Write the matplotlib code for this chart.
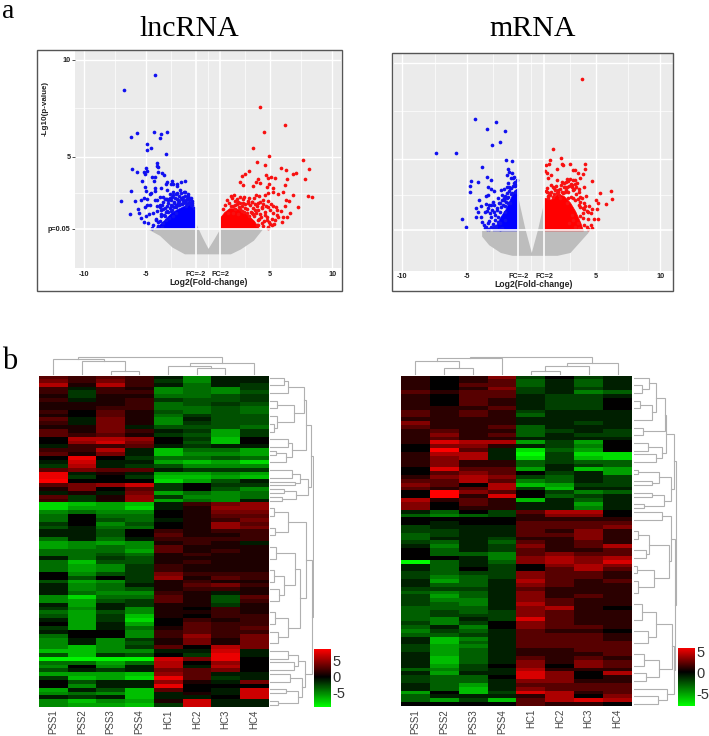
import numpy as np
import matplotlib
matplotlib.use("Agg")
import matplotlib.pyplot as plt
from matplotlib.colors import LinearSegmentedColormap, TwoSlopeNorm
from matplotlib.patches import Rectangle

W, H = 709, 736
plt.rcParams['font.family'] = ['Liberation Sans', 'DejaVu Sans']

# ---------- volcano data ----------
lnc_blue_x = [-6.19,-5.71,-4.31,-3.81,-3.89,-3.27,-4.88,-4.56,-4.93,-3.35,-6.08,-5.68,-4.98,-5.15,-5.09,-4.88,-4.07,-4.13,-3.99,-4.02,-3.67,-3.56,-4.53,-4.23,-4.31,-5.33,-5.04,-4.96,-6.22,-3.38,-3.27,-2.92,-3.0,-2.84,-2.49,-2.52,-2.2,-1.85,-3.78,-4.23,-3.27,-3.05,-4.61,-4.69,-4.26,-6.97,-5.9,-5.41,-5.17,-4.9,-5.07,-5.6,-5.57,-6.3,-4.88,-4.66,-4.26,-4.13,-3.86,-3.59,-4.13,-3.86,-3.27,-2.92,-2.52,-2.2,-1.85,-1.58,-5.36,-5.01,-5.15,-4.74,-4.8,-4.53,-4.39,-4.18,-3.6,-3.3,-3.0,-2.7,-2.4,-2.1,-1.7,-1.5,-1.3,-3.8,-3.5,-3.2,-2.9,-2.6,-2.3,-2.0,-1.8,-3.9,-3.65,-3.4,-3.15,-2.85,-2.55,-4.0,-3.7,-6.75,-4.28,
-4.4,-4.2,-4.1,-4.0,-3.9,-3.8,-3.75,-3.6,-3.55,-3.45,-3.4,-3.3,-3.25,-3.1,-3.05,-2.95,-2.9,-2.8,-2.75,-2.65,-2.6,-2.5,-2.45,-2.35,-2.3,-2.2,-2.15,-2.05,-2.0,-1.9,-1.85,-1.75,-1.7,-1.6,-1.55,-1.45,-1.4,-1.3,-1.25,-1.15,-3.5,-3.2,-2.85,-2.55,-2.25,-1.95,-1.65,-1.35,-3.7,-3.35,-3.0,-2.7,-2.4,-2.1,-1.8,-1.5]
lnc_blue_y = [6.0,6.23,6.26,6.16,5.99,6.3,5.66,5.46,5.34,5.13,4.36,4.24,4.41,4.22,4.13,4.25,4.67,4.55,4.46,4.24,4.19,4.06,3.96,3.98,3.74,3.76,3.43,3.24,3.26,3.58,3.72,3.74,3.58,3.58,3.58,3.5,3.7,3.74,3.39,3.39,3.29,3.09,3.15,3.07,3.22,2.72,2.72,2.76,2.9,2.81,2.43,2.31,2.11,2.05,2.52,2.52,2.78,2.78,2.91,2.95,2.47,2.52,2.81,2.91,3.15,3.12,3.21,2.98,1.85,1.97,1.62,2.05,1.57,1.32,2.09,1.75,2.3,2.45,2.5,2.65,2.75,2.85,2.8,2.6,2.5,2.05,1.95,2.15,2.25,2.4,2.5,2.6,2.45,1.7,1.6,1.75,1.85,1.95,2.1,1.45,1.4,8.45,9.2,
1.5,1.8,2.2,1.65,2.4,2.25,1.95,2.65,2.0,2.35,2.8,2.2,2.6,2.9,2.35,2.75,2.45,3.05,2.6,2.9,2.5,2.85,2.6,3.0,2.7,2.55,2.9,2.75,2.95,2.7,3.0,2.75,2.55,2.95,2.65,2.8,2.5,2.7,2.6,2.35,2.85,2.75,3.2,3.1,3.3,3.2,3.1,2.9,2.5,2.15,2.2,2.4,2.5,2.55,2.6,2.85]
lnc_red_x = [6.17,4.53,3.62,4.91,3.94,4.56,7.67,8.15,5.84,6.27,7.05,6.84,3.32,2.95,2.71,2.6,2.84,4.02,3.83,4.18,3.62,4.64,5.07,5.39,4.85,4.93,4.72,5.25,6.33,6.17,7.77,8.02,8.39,6.84,6.0,5.25,5.66,4.85,4.58,3.83,1.85,2.12,2.57,2.9,3.27,4.13,3.73,6.25,6.49,7.24,6.62,6.19,5.84,6.33,6.06,5.66,5.93,5.12,4.99,4.8,5.12,5.52,5.25,4.85,4.45,4.32,4.0,3.57,3.24,2.84,2.44,2.17,1.85,2.98,3.78,4.18,4.58,3.51,2.57,4.72,4.05,4.32,3.91,4.18,
1.2,1.4,1.55,1.7,1.9,2.0,2.15,2.3,2.35,2.5,2.6,2.75,2.85,3.0,3.1,3.2,3.35,3.45,3.55,3.65,3.75,3.85,3.95,4.05,4.15,4.25,4.35,4.45,4.55,4.65,4.75,4.85,4.95,5.05,5.2,5.35,5.45,5.55,1.6,2.0,2.45,2.9,3.3,3.7,4.1,4.5,4.9,5.3,2.2,2.7,3.15,3.6,4.0,4.4,4.8]
lnc_red_y = [6.64,6.28,5.44,5.04,4.73,4.58,4.83,4.39,4.42,4.34,4.17,4.1,4.25,4.11,4.01,3.72,3.53,3.86,3.7,3.65,3.48,4.06,3.96,3.91,3.89,3.6,3.46,3.39,3.84,3.56,3.86,2.96,2.93,3.05,3.17,3.2,3.08,3.15,3.03,3.03,2.98,3.01,2.95,2.95,2.86,2.98,2.86,2.77,2.72,2.4,2.09,2.46,2.22,1.92,1.88,1.92,1.66,1.81,1.52,1.31,1.5,2.26,2.46,2.4,2.77,2.4,2.6,2.69,2.6,2.64,2.69,2.52,2.46,2.34,2.26,2.05,2.0,2.09,2.29,1.74,1.74,1.57,1.5,7.55,
2.3,2.5,2.75,2.6,2.9,2.45,2.7,2.55,2.85,2.4,2.6,2.45,2.8,2.55,2.3,2.7,2.5,2.15,2.65,2.35,2.55,2.1,2.45,2.25,2.65,1.9,2.35,2.55,2.15,2.45,1.9,2.7,2.25,2.55,2.1,1.75,2.4,2.0,2.1,2.1,2.05,2.15,1.95,1.95,1.8,1.7,1.65,1.55,2.3,2.2,2.1,2.05,1.5,1.45,1.4]
mrna_blue_x = [-4.36,-2.71,-3.43,-2.06,-2.45,-3.02,-7.38,-5.81,-1.96,-1.52,-3.8,-1.83,-1.73,-1.47,-1.91,-3.46,-1.57,-3.1,-1.32,-1.26,-1.78,-4.13,-4.7,-4.75,-4.73,-3.33,-3.12,-2.87,-2.37,-2.14,-1.91,-1.65,-3.33,-3.51,-4.03,-3.54,-4.29,-3.93,-4.1,-4.29,-3.85,-5.35,-5.04,-3.38,-3.2,-2.94,-3.12,-2.55,-2.25,-1.91,-1.47,-1.26,-2.68,-2.43,-2.09,-1.78,-2.87,-2.55,-2.81,-3.33,-3.12,-3.46,-2.87,-2.43,-2.3,-2.03,-2.03,-1.65,
-3.9,-3.7,-3.6,-3.5,-3.4,-3.3,-3.25,-3.15,-3.05,-3.0,-2.9,-2.8,-2.75,-2.65,-2.6,-2.5,-2.45,-2.35,-2.3,-2.2,-2.15,-2.05,-2.0,-1.95,-1.85,-1.8,-1.7,-1.6,-1.55,-1.45,-1.35,-1.25,-1.15,-3.6,-3.3,-3.0,-2.7,-2.4,-2.1,-1.75,-1.4,-1.1]
mrna_blue_y = [7.12,6.96,6.58,6.46,5.9,5.73,5.31,5.33,4.96,4.89,4.58,4.5,4.34,4.27,4.18,4.08,4.04,3.92,4.06,3.8,3.75,3.8,3.85,3.63,3.28,3.57,3.44,3.33,3.4,3.45,3.57,3.49,3.14,3.11,2.9,2.65,2.45,2.59,2.27,2.0,1.75,1.87,1.46,2.45,2.19,2.79,2.62,2.97,3.14,3.26,3.23,3.31,2.45,2.71,2.88,3.02,2.27,2.01,1.84,1.66,1.46,1.35,1.46,1.66,1.4,1.84,2.27,2.71,
2.0,1.6,2.25,1.5,2.3,1.8,2.6,2.0,2.35,1.65,2.6,2.1,1.55,2.35,1.75,2.7,2.25,2.5,2.9,2.6,2.9,2.55,3.1,2.8,3.0,2.7,3.35,3.2,3.5,3.6,3.75,3.6,3.65,1.4,1.35,1.4,1.4,1.35,3.0,3.55,4.0,3.9]
mrna_red_x = [3.96,1.66,2.33,1.45,1.11,1.37,2.35,2.48,3.03,4.16,2.02,3.26,3.36,4.19,1.09,1.22,1.53,3.65,3.98,1.32,2.02,2.41,2.74,3.36,3.77,4.68,1.5,1.79,2.61,3.13,3.52,4.09,3.67,1.19,1.97,2.87,3.26,5.33,6.18,6.23,5.04,5.17,5.79,4.71,5.12,4.37,4.63,4.86,5.17,4.03,3.77,3.77,3.26,2.87,4.16,3.77,3.98,3.65,4.11,4.42,4.68,3.72,3.26,3.39,2.95,3.13,2.48,2.22,1.45,2.74,1.32,
1.15,1.25,1.4,1.55,1.65,1.75,1.85,1.95,2.05,2.15,2.25,2.3,2.4,2.5,2.55,2.65,2.7,2.8,2.85,2.95,3.0,3.05,3.15,3.2,3.3,3.35,3.45,3.5,3.6,3.7,3.8,3.9,4.0,4.1,4.2,4.3,4.4,4.5,4.6,1.3,1.7,2.1,2.6,3.1,3.4,3.7,4.05,4.35]
mrna_red_y = [9.17,5.54,5.07,4.96,4.69,4.74,4.74,4.7,4.76,4.76,4.5,4.42,4.42,4.48,4.41,4.27,4.18,4.27,4.23,4.03,3.92,3.8,3.96,3.92,4.01,3.85,3.66,3.49,3.57,3.66,3.75,3.54,3.45,3.31,3.23,3.31,3.4,3.23,3.37,2.91,2.88,2.71,2.65,2.39,2.39,2.26,2.22,1.87,1.87,2.45,2.79,3.05,2.97,2.97,2.57,2.05,1.93,1.66,1.58,1.37,1.42,1.41,1.84,1.46,1.66,2.1,3.23,2.97,3.14,2.71,2.97,
3.35,3.5,3.25,3.3,3.55,3.2,3.4,3.6,3.3,3.15,3.45,3.65,3.3,3.55,3.75,3.4,3.8,3.55,3.85,3.6,3.95,3.7,3.55,3.9,3.45,3.7,3.2,3.55,2.95,3.3,2.5,3.0,2.2,2.7,3.1,2.3,1.9,2.55,1.6,3.1,3.05,3.4,3.3,3.05,2.9,2.6,2.4,1.5]

# solid cores of the significant clouds (x, upper y)
lnc_core_blue_x = [-4.3,-4,-3.5,-3,-2.5,-2,-1.5,-1.05]
lnc_core_blue_y = [1.3,1.45,1.75,2.1,2.3,2.45,2.55,2.3]
lnc_core_red_x = [1.0,1.3,1.7,2.2,2.7,3.2,3.7,4.1]
lnc_core_red_y = [1.9,2.15,2.35,2.35,2.25,2.0,1.7,1.3]
mrna_core_blue_x = [-3.0,-2.7,-2.4,-2.0,-1.6,-1.3,-1.05]
mrna_core_blue_y = [1.3,1.6,2.0,2.4,3.0,3.4,3.5]
mrna_core_red_x = [1.0,1.5,2.0,2.5,3.0,3.4,3.8,4.0]
mrna_core_red_y = [3.0,2.9,3.2,3.1,2.75,2.3,1.7,1.3]

# grey non-significant cloud: x, lower y, upper y
lnc_grey_x = [-4.9,-3.9,-2.9,-1.9,-1.0,-0.5,0.0,0.5,1.0,1.8,2.6,3.65,4.4]
lnc_grey_lo = [1.3,0.95,0.35,0.0,0.0,0.0,0.0,0.0,0.0,0.0,0.25,0.7,1.3]
lnc_grey_hi = [1.3,1.3,1.3,1.3,1.6,0.9,0.28,0.8,1.35,1.3,1.3,1.3,1.3]
mrna_grey_x = [-3.85,-3.3,-2.4,-1.5,-1.0,-0.5,0.0,0.5,1.0,2.0,3.0,3.8,4.4]
mrna_grey_lo = [1.0,0.55,0.15,0.0,0.0,0.0,0.0,0.0,0.0,0.0,0.15,0.75,1.2]
mrna_grey_hi = [1.3,1.3,1.3,1.3,2.9,1.4,0.15,1.4,2.9,1.3,1.3,1.3,1.3]

x_breaks = [-10,-5,-1,1,5,10]
x_break_labels = ['-10','-5','FC=-2','FC=2','5','10']
x_minor = [-7.5,-3,0,3,7.5]
y_breaks = [1.3,5,10]
y_break_labels = ['p=0.05','5','10']
y_minor = [3.15,7.5]

# ---------- heatmap data ----------
samples = ['PSS1','PSS2','PSS3','PSS4','HC1','HC2','HC3','HC4']
lnc_heat = [
[3,2,3,2,-1,-5,-1,-1],[4,2,4,2,-2,-5,-1,-1],[6,1,6,2,-1,-4,-1,-2],[2,-1,2,1,-5,-4,-5,-2],
[2,-2,2,2,-5,-4,-5,-3],[1,-2,1,1,-4,-4,-3,-2],[2,-1,1,2,-2,-3,-3,-2],[1,1,1,2,-4,-3,-2,-3],
[1,1,2,2,-4,-4,-3,-4],[2,0,3,1,-3,-4,-3,-4],[1,0,3,1,-4,-2,-3,-3],[3,-1,4,1,-5,-1,-3,-3],
[2,-1,4,1,-5,-2,-3,-3],[1,1,4,-1,-3,-3,-3,-4],[3,1,4,2,-1,-2,-6,-2],[3,2,3,1,-2,-3,-6,-2],
[0,6,6,5,0,-2,-7,0],[0,5,7,4,0,-3,-7,0],[-1,2,2,3,-1,-2,-1,-1],[2,2,6,-1,-7,-4,-4,-6],
[3,1,4,-1,-7,-5,-5,-6],[0,8,0,-2,-4,-4,-3,-4],[-1,7,-1,-1,-6,-7,-6,-8],[-2,6,-1,-2,-3,-5,-5,-5],
[3,4,3,3,-1,-2,-2,-2],[8,-1,1,-1,-6,-6,-5,-6],[8,-2,0,-2,-7,-7,-6,-7],[9,0,0,0,-8,-6,-3,-1],
[3,4,5,7,-2,0,-2,-2],[1,4,0,3,-2,0,-3,-5],[-1,1,-1,4,-6,-4,-5,-4],[3,-2,1,5,-2,-5,-5,-4],
[2,-2,1,5,-6,-4,-5,-1],[-8,-7,-6,-7,-1,2,4,5],[-8,-6,-6,-8,-1,1,5,5],[-5,-4,-5,-5,0,1,4,4],
[-4,0,-4,-4,0,1,3,3],[-4,0,-3,-4,-1,1,2,4],[-2,0,-5,-3,0,1,5,3],[-3,-1,-4,-4,0,1,5,4],
[-1,-1,-3,0,2,1,2,2],[-1,-1,-3,0,3,1,1,2],[-4,-1,-4,-1,2,2,2,2],[-6,-5,-6,-5,1,2,1,-1],
[-6,-5,-4,-5,3,1,1,1],[-4,-4,-4,-6,3,1,2,1],[-4,-4,-3,-4,1,2,1,1],[-1,-4,-2,-3,1,1,1,1],
[-4,-7,-3,-3,1,2,1,1],[-4,-6,-5,-2,2,1,1,1],[-4,-6,-5,-2,2,1,1,1],[0,-5,-3,-2,4,2,2,2],
[0,-3,0,-2,5,1,3,2],[-3,-6,-5,-2,1,2,1,1],[-1,-5,-4,-1,1,3,4,2],[-1,-5,-4,-3,1,2,2,1],
[-1,-4,-5,-5,2,1,-1,1],[-5,-8,-4,-4,3,1,-3,3],[-5,-6,-3,-2,3,1,-3,2],[-1,-6,-1,-2,1,1,-2,1],
[-2,-5,-1,-5,1,0,2,1],[-4,-6,-3,-5,1,1,2,1],[-3,-6,-2,-7,1,0,2,2],[-1,-6,-2,-8,0,2,1,2],
[0,-6,-1,-6,0,3,2,2],[-2,-6,-1,-4,1,3,2,3],[-1,0,0,-5,2,3,2,2],[-4,0,0,-5,2,5,2,4],
[-5,-1,-5,-2,1,4,1,4],[-5,-1,-5,-3,1,4,1,4],[-5,-7,-5,-2,3,0,6,4],[-7,-7,-5,-5,-1,-1,7,-1],
[-3,-7,-2,-3,0,-2,8,-1],[-9,-9,-9,-9,7,4,8,0],[-4,-4,-6,-4,6,0,5,0],[-5,0,-5,-1,6,-1,6,0],
[-3,-1,-2,-1,4,3,4,0],[-6,-6,-6,-7,5,3,-1,-1],[-2,-7,-6,-8,8,3,-2,-1],[0,-3,-1,-1,5,1,-1,4],
[0,-5,-1,-1,8,0,0,0],[-6,-1,-3,-7,3,0,-1,7],[-5,-4,-5,-7,-1,1,-1,7],[-1,-2,-1,-7,-1,-1,0,7],
[-5,-7,-5,-6,1,7,-1,-1],[-5,-6,-6,-7,-2,7,-1,-1],
]
mrna_heat = [
[1,0,1,3,-2,0,-2,-1],[1,0,1,2,-3,-1,-3,-1],[1,0,2,2,-3,-1,-3,-1],[1,0,1,3,-2,-1,-2,-1],
[2,1,2,2,-2,-1,-4,-3],[1,0,2,2,-1,-2,-2,-1],[1,0,2,1,-1,-2,-2,0],[1,0,2,1,-1,-2,-2,0],
[1,1,1,2,-1,-2,-2,0],[2,1,2,1,-2,-1,-1,-1],[2,1,2,1,-3,-1,-1,-1],[1,1,1,1,-1,-1,-1,-1],
[3,1,1,1,-1,-1,-2,-1],[2,1,1,2,-3,-1,-1,-1],[1,2,1,1,-3,-2,-1,-2],[1,3,1,2,-3,-1,-2,-2],
[1,2,1,1,-1,-1,-1,-1],[1,5,4,4,-5,-2,-5,0],[0,3,3,1,-1,-2,-4,0],[0,6,2,-1,-7,-3,-5,0],
[1,4,4,-1,-8,-2,-7,-7],[1,3,4,-1,-7,-2,-6,-7],[1,3,1,1,-3,-2,-3,-3],[1,3,1,1,-3,-1,-2,-3],
[0,5,2,2,-5,-1,-6,-5],[0,2,3,2,0,-2,-1,-5],[1,3,4,3,-2,-3,-1,-2],[2,2,4,2,-4,-3,-1,-2],
[3,2,0,4,-6,-5,-2,-2],[2,1,2,4,-2,-6,-1,-1],[0,6,3,2,0,-2,-4,-3],[0,6,1,5,0,-3,-2,-1],
[4,1,2,1,-6,-1,-3,-1],[3,0,2,1,-1,-1,-5,-1],[3,0,1,1,-1,-1,-4,-1],[-1,-3,0,-2,2,4,4,0],
[-3,-4,-3,-2,1,3,3,0],[0,0,0,0,1,1,1,1],[0,-1,0,0,2,2,2,2],[-2,-1,-1,-1,2,2,2,3],
[-2,-2,-1,-1,2,1,3,1],[-3,-2,-1,-1,2,2,3,1],[-3,-1,-1,-2,1,1,3,1],[-2,-3,-1,-3,2,1,2,1],
[-1,-4,-1,-2,3,1,2,4],[0,-3,-1,-2,2,1,1,2],[0,-3,-3,-4,2,3,2,2],[0,0,-1,-4,3,4,3,4],
[-8,-3,-1,-3,3,4,3,5],[-1,-3,-1,-2,0,3,4,3],[-1,-3,0,-2,0,2,4,2],[-2,-3,-2,-2,3,2,2,1],
[-2,-4,-3,-2,3,2,2,1],[-1,-5,-3,-1,4,2,1,2],[-1,-3,-3,-1,3,2,1,1],[-2,-2,-2,-1,2,1,1,1],
[-3,-4,-3,-1,3,1,1,1],[-2,-5,-3,-1,3,1,2,1],[-2,-4,-4,-1,3,2,1,1],[-2,-3,-4,-1,4,2,1,1],
[-3,-3,-3,-1,3,4,1,0],[-3,-2,-3,-2,3,2,1,1],[-3,-2,-2,-2,3,2,1,1],[-3,-4,-1,-2,5,2,1,1],
[-2,-4,-2,0,3,2,1,1],[-3,-1,-4,0,3,2,2,1],[-4,-2,-3,-1,2,1,1,0],[-3,-3,-2,-1,2,2,2,1],
[-1,-6,-4,-1,2,2,2,1],[-1,-6,-3,-1,2,2,2,2],[-2,-5,-4,-1,2,2,2,2],[-2,-5,-3,-1,1,1,2,2],
[-1,-5,-3,-1,1,1,1,2],[-1,-6,-3,-1,2,1,2,1],[-1,-6,-3,-1,3,1,3,2],[-1,-5,-2,0,3,0,3,2],
[-3,-4,-2,-1,4,1,1,1],[-1,-5,-1,-1,5,3,0,4],[-2,-3,-3,0,5,3,0,1],[-2,-3,-3,-1,3,3,1,1],
[-1,-3,-5,-1,2,2,2,2],[-1,-3,-6,-1,3,2,2,2],[-5,0,-6,-2,5,4,1,2],[-3,-1,-1,-1,1,4,0,3],
[-3,-5,-2,-6,2,4,5,4],[0,0,0,0,2,1,1,0],
]

# dendrograms: (left, right, merge height); integers are leaves
lnc_col_tree = ((0,(1,(2,3,3),13),15),((4,(5,6,6),8),7,11),17)
mrna_col_tree = (((0,(1,2,6),13),3,16),(((4,5,3),6,8),7,11),17)

_u1 = (((0,2,14),4,18),((6,8,7),(10,(12,14,4),7),24),34)
_u2 = ((16,18,18),((19,20,6),22,16),22)
_u3 = ((24,26,22),(27,28,25),30)
_u4 = ((29,30,14),(31,32,12),26)
_l1 = ((34,36,4),(39,41,5),18)
_l2 = ((44,47,6),((50,53,4),(55,58,9),14),25)
_l3 = ((61,64,5),(66,69,8),18)
_l4 = (_l1,(_l2,_l3,30),36)
_l5 = ((71,73,18),(74,76,24),28)
_l6 = ((77,79,20),((81,82,16),(84,85,8),28),32)
lnc_row_tree = (((_u1,_u2,36),(_u3,_u4,38),41),(_l4,(_l5,_l6,35),42),43)

_m1 = (((0,(2,4,8),15),((6,8,6),11,18),22),(13,15,9),31)
_m2 = ((17,19,14),(20,22,22),28)
_m3 = ((24,25,4),(27,28,18),25)
_m4 = ((30,31,18),(33,34,10),30)
_n1 = (35,37,28)
_n2 = ((40,42,4),(45,47,12),15)
_n3 = ((49,51,3),(53,56,4),20)
_n4 = ((59,63,8),(66,69,14),22)
_n5 = ((72,75,10),(77,79,12),25)
_n6 = (81,(83,85,24),33)
mrna_row_tree = (((_m1,_m2,32),(_m3,_m4,37),40),((_n1,(_n2,_n3,35),37),((_n4,_n5,38),_n6,40),41),42)

# ---------- helpers ----------
fig = plt.figure(figsize=(W/100, H/100), dpi=100, facecolor='white')

def axpx(x0, y0, x1, y1):
    return fig.add_axes([x0/W, 1-y1/H, (x1-x0)/W, (y1-y0)/H])

def box(x0, y0, x1, y1):
    fig.add_artist(Rectangle((x0/W, 1-y1/H), (x1-x0)/W, (y1-y0)/H, transform=fig.transFigure,
                             fill=False, edgecolor='#555555', lw=1.0))

def volcano(rect, xlim, ylim, bx, by, rx, ry, cbx, cby, crx, cry, gx, glo, ghi, ylabels, tickpad, labelpad):
    ax = axpx(*rect)
    ax.set_facecolor('#ebebeb')
    ax.set_xlim(xlim); ax.set_ylim(ylim)
    for s in ax.spines.values():
        s.set_visible(False)
    for v in x_minor:
        ax.axvline(v, color='white', lw=0.5, zorder=1)
    for v in y_minor:
        ax.axhline(v, color='white', lw=0.5, zorder=1)
    for v in [-10,-5,5,10]:
        ax.axvline(v, color='white', lw=1.0, zorder=1)
    for v in [5,10]:
        ax.axhline(v, color='white', lw=1.0, zorder=1)
    ax.fill_between(gx, glo, ghi, color='#bdbdbd', lw=0, zorder=2)
    ax.fill_between(cbx, 1.3, cby, color='#0000ff', lw=0.5, zorder=3)
    ax.fill_between(crx, 1.3, cry, color='#ff0000', lw=0.5, zorder=3)
    ax.scatter(bx, by, s=7, c='#1010f0', lw=0, zorder=4)
    ax.scatter(rx, ry, s=7, c='#f81010', lw=0, zorder=4)
    ax.axvline(-1, color='white', lw=1.2, zorder=5)
    ax.axvline(1, color='white', lw=1.2, zorder=5)
    ax.axhline(1.3, color='white', lw=1.2, zorder=5)
    ax.set_xticks(x_breaks, x_break_labels, fontsize=5.2, fontweight='bold', color='#222222')
    ax.tick_params(axis='x', length=0, pad=tickpad)
    if ylabels:
        ax.set_yticks(y_breaks, y_break_labels, fontsize=5.2, fontweight='bold', color='#222222')
        ax.tick_params(axis='y', length=2, width=0.6, pad=1.5, color='#333333')
    else:
        ax.set_yticks([])
    ax.set_xlabel('Log2(Fold-change)', fontsize=6.2, fontweight='bold', color='#222222', labelpad=labelpad)
    return ax

def tree_lines(ax, node, horizontal=False):
    if not isinstance(node, tuple):
        return float(node), 0.0
    l, r, h = node
    pl, hl = tree_lines(ax, l, horizontal)
    pr, hr = tree_lines(ax, r, horizontal)
    xs, ys = [pl, pl, pr, pr], [hl, h, h, hr]
    if horizontal:
        ax.plot(ys, xs, color='#b0b0b0', lw=0.8, solid_joinstyle='miter')
    else:
        ax.plot(xs, ys, color='#b0b0b0', lw=0.8, solid_joinstyle='miter')
    return (pl+pr)/2, h

def heatmap(rect, data, vmin, vmax, cbar_rect, coltree, rowtree, top_h, right_w):
    cmap = LinearSegmentedColormap.from_list('gbr', ['#00ff00', '#000000', '#ff0000'])
    norm = TwoSlopeNorm(vmin=vmin, vcenter=0, vmax=vmax)
    x0, y0, x1, y1 = rect
    ax = axpx(*rect)
    ax.imshow(np.array(data, float), cmap=cmap, norm=norm, aspect='auto', interpolation='nearest')
    ax.set_xticks(range(8), samples, rotation=90, fontsize=7.0, color='#444444')
    ax.set_yticks([])
    ax.tick_params(axis='x', length=0, pad=2)
    for s in ax.spines.values():
        s.set_visible(False)
    # column dendrogram
    at = axpx(x0, y0-top_h, x1, y0)
    at.set_xlim(-0.5, 7.5); at.set_ylim(-1.5, top_h-1.5); at.axis('off')
    tree_lines(at, coltree)
    # row dendrogram
    ar = axpx(x1+1.5, y0, x1+1.5+right_w, y1)
    ar.set_xlim(0, right_w); ar.set_ylim(len(data)-0.5, -0.5); ar.axis('off')
    tree_lines(ar, rowtree, horizontal=True)
    # colour key
    c = axpx(*cbar_rect)
    grad = np.linspace(vmax, vmin, 256)[:, None]
    c.imshow(grad, cmap=cmap, norm=norm, aspect='auto', extent=[0, 1, vmin, vmax])
    c.set_xticks([])
    c.yaxis.tick_right()
    c.set_yticks([5, 0, -5], ['5', '0', '-5'], fontsize=10.5, color='#333333')
    c.tick_params(axis='y', length=0, pad=1)
    for s in c.spines.values():
        s.set_visible(False)

# ---------- draw ----------
box(36.5, 50, 342, 291)
volcano((75.3, 51, 341, 268), (-10.68, 10.7), (-0.73, 10.45),
        lnc_blue_x, lnc_blue_y, lnc_red_x, lnc_red_y,
        lnc_core_blue_x, lnc_core_blue_y, lnc_core_red_x, lnc_core_red_y,
        lnc_grey_x, lnc_grey_lo, lnc_grey_hi, True, 2.5, -0.5)
fig.text(45/W, 1-108/H, '-Lg10(p-value)', rotation=90, fontsize=5.8, fontweight='bold',
         color='#222222', ha='center', va='center')
box(392.3, 52.7, 673, 291)
volcano((394, 53, 673, 270.7), (-10.64, 10.98), (-0.80, 10.53),
        mrna_blue_x, mrna_blue_y, mrna_red_x, mrna_red_y,
        mrna_core_blue_x, mrna_core_blue_y, mrna_core_red_x, mrna_core_red_y,
        mrna_grey_x, mrna_grey_lo, mrna_grey_hi, False, 2.0, -0.5)

heatmap((39, 375.7, 268.5, 706.7), lnc_heat, -9.4, 8.7, (314, 649, 331, 706.7),
        lnc_col_tree, lnc_row_tree, 21, 44)
heatmap((401, 375.7, 632, 706), mrna_heat, -8.1, 5.9, (678, 647.7, 695, 706),
        mrna_col_tree, mrna_row_tree, 21, 44)

serif = ['Liberation Serif', 'DejaVu Serif']
fig.text(189/W, 1-36/H, 'lncRNA', family=serif, fontsize=21.5, ha='center', va='baseline', color='black')
fig.text(533/W, 1-36/H, 'mRNA', family=serif, fontsize=21.5, ha='center', va='baseline', color='black')
fig.text(2/W, 1-18/H, 'a', family=serif, fontsize=20, ha='left', va='baseline', color='black')
fig.text(2/W, 1-369/H, 'b', family=serif, fontsize=22, ha='left', va='baseline', color='black')

fig.savefig('out.png', dpi=100, facecolor='white')
